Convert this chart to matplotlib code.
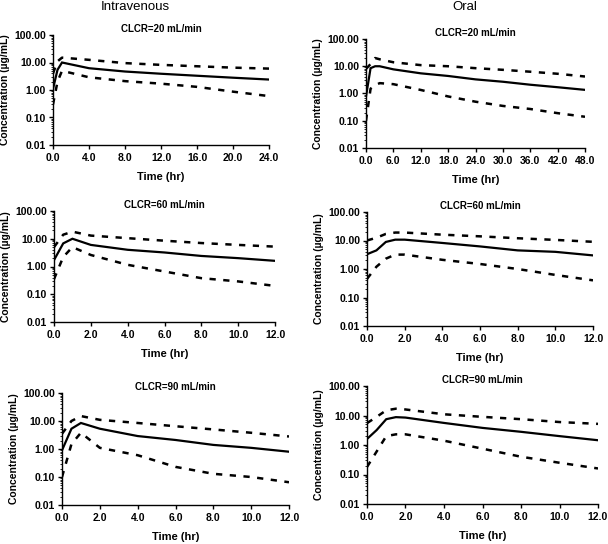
import numpy as np
import matplotlib
matplotlib.use("Agg")
import matplotlib.pyplot as plt
from matplotlib.ticker import FormatStrFormatter, LogLocator, FixedLocator

plt.rcParams['font.family'] = ['Liberation Sans', 'DejaVu Sans']

# --- data ---
# IV, CLCR=20
t_iv20 = [0, 0.5, 1, 4, 8, 12, 16, 20, 24]
med_iv20 = [1.1, 5.4, 10.0, 6.2, 4.7, 3.9, 3.3, 2.8, 2.4]
hi_iv20 = [4.0, 11.0, 15.0, 12.5, 9.5, 8.2, 7.3, 6.5, 6.0]
lo_iv20 = [0.3, 2.0, 5.0, 2.9, 2.1, 1.7, 1.3, 0.87, 0.6]

# Oral, CLCR=20
t_po20 = [0, 1, 2, 3, 6, 12, 18, 24, 30, 36, 42, 48]
med_po20 = [0.78, 8.5, 10.0, 10.0, 7.7, 5.5, 4.4, 3.3, 2.7, 2.1, 1.7, 1.36]
hi_po20 = [8.0, 12.0, 20.0, 18.0, 14.0, 11.0, 10.0, 8.5, 7.4, 6.3, 5.3, 4.2]
lo_po20 = [0.1, 1.5, 2.0, 2.4, 2.2, 1.35, 0.78, 0.5, 0.35, 0.27, 0.19, 0.14]

# IV, CLCR=60
t_iv60 = [0, 0.5, 1, 2, 4, 6, 8, 10, 12]
med_iv60 = [1.7, 6.8, 10.0, 6.0, 4.0, 3.2, 2.4, 2.0, 1.6]
hi_iv60 = [5.0, 14.0, 18.0, 13.0, 10.5, 8.5, 7.0, 6.0, 5.2]
lo_iv60 = [0.35, 2.2, 5.0, 2.6, 1.15, 0.66, 0.38, 0.29, 0.2]

# Oral, CLCR=60
t_po60 = [0, 0.5, 1, 1.5, 2, 4, 6, 8, 10, 12]
med_po60 = [3.3, 4.5, 8.9, 10.7, 10.7, 8.2, 6.2, 4.5, 4.0, 3.0]
hi_po60 = [10.0, 12.5, 17.0, 19.0, 19.0, 16.0, 14.0, 12.0, 10.5, 9.0]
lo_po60 = [0.45, 1.2, 2.3, 3.2, 3.2, 2.1, 1.5, 1.0, 0.62, 0.4]

# IV, CLCR=90
t_iv90 = [0, 0.5, 1, 2, 4, 6, 8, 10, 12]
med_iv90 = [0.9, 5.3, 8.5, 5.3, 2.9, 2.1, 1.4, 1.1, 0.8]
hi_iv90 = [3.5, 10.0, 15.0, 11.0, 8.5, 6.5, 5.0, 3.8, 2.8]
lo_iv90 = [0.1, 1.5, 3.8, 1.1, 0.6, 0.23, 0.13, 0.1, 0.065]

# Oral, CLCR=90
t_po90 = [0, 0.5, 1, 1.5, 2, 4, 6, 8, 10, 12]
med_po90 = [1.6, 3.2, 7.5, 8.8, 8.5, 5.6, 3.8, 2.8, 2.0, 1.45]
hi_po90 = [5.5, 9.0, 15.0, 17.0, 16.0, 11.0, 9.0, 7.5, 6.0, 5.2]
lo_po90 = [0.18, 0.6, 2.0, 2.3, 2.3, 1.4, 0.75, 0.4, 0.25, 0.16]

titles = ["CLCR=20 mL/min", "CLCR=20 mL/min", "CLCR=60 mL/min",
          "CLCR=60 mL/min", "CLCR=90 mL/min", "CLCR=90 mL/min"]
xmax = [24, 48, 12, 12, 12, 12]
xstep = [4, 6, 2, 2, 2, 2]

panels = [
    (t_iv20, med_iv20, hi_iv20, lo_iv20),
    (t_po20, med_po20, hi_po20, lo_po20),
    (t_iv60, med_iv60, hi_iv60, lo_iv60),
    (t_po60, med_po60, hi_po60, lo_po60),
    (t_iv90, med_iv90, hi_iv90, lo_iv90),
    (t_po90, med_po90, hi_po90, lo_po90),
]

W, H = 608, 544
# axes boxes in pixels: x0, x1, ytop, ybottom
boxes = [
    (53, 269, 35, 145),
    (366, 585, 39, 148),
    (54, 275, 211, 322),
    (367, 593, 212, 326),
    (62, 289, 393, 505),
    (367, 598, 386, 504),
]

fig = plt.figure(figsize=(W / 100, H / 100), dpi=100, facecolor='white')

for i, (t, med, hi, lo) in enumerate(panels):
    x0, x1, yt, yb = boxes[i]
    ax = fig.add_axes([x0 / W, 1 - yb / H, (x1 - x0) / W, (yb - yt) / H])
    ax.plot(t, med, color='black', lw=1.6, solid_joinstyle='miter')
    ax.plot(t, hi, color='black', lw=1.8, dashes=(2.5, 3))
    ax.plot(t, lo, color='black', lw=1.8, dashes=(2.5, 3))

    ax.set_yscale('log')
    ax.set_ylim(0.01, 100)
    ax.set_xlim(0, xmax[i])
    ax.set_yticks([0.01, 0.1, 1, 10, 100])
    ax.yaxis.set_major_formatter(FormatStrFormatter('%.2f'))
    ax.yaxis.set_minor_locator(LogLocator(base=10, subs=np.arange(2, 10)))
    ax.xaxis.set_major_locator(FixedLocator(np.arange(0, xmax[i] + 0.1, xstep[i])))
    ax.xaxis.set_major_formatter(FormatStrFormatter('%.1f'))

    for s in ['top', 'right']:
        ax.spines[s].set_visible(False)
    for s in ['left', 'bottom']:
        ax.spines[s].set_linewidth(1.0)
    ax.tick_params(axis='both', which='major', labelsize=7.5, length=3, width=1.0, pad=2)
    ax.tick_params(axis='x', which='major', pad=3)
    ax.tick_params(axis='y', which='minor', length=1.8, width=0.6)
    for lab in ax.get_xticklabels() + ax.get_yticklabels():
        lab.set_fontweight('bold')

    ax.set_title(titles[i], fontsize=7, fontweight='bold', pad=2.5)
    ax.set_xlabel('Time (hr)', fontsize=8, fontweight='bold', labelpad=6)
    ax.set_ylabel('Concentration (\u00b5g/mL)', fontsize=7.5, fontweight='bold', labelpad=3)

fig.text(135 / W, 1 - 1.5 / H, 'Intravenous', ha='center', va='top', fontsize=9.5)
fig.text(465 / W, 1 - 1.5 / H, 'Oral', ha='center', va='top', fontsize=9.5)

fig.savefig('out.png', dpi=100, facecolor='white')
